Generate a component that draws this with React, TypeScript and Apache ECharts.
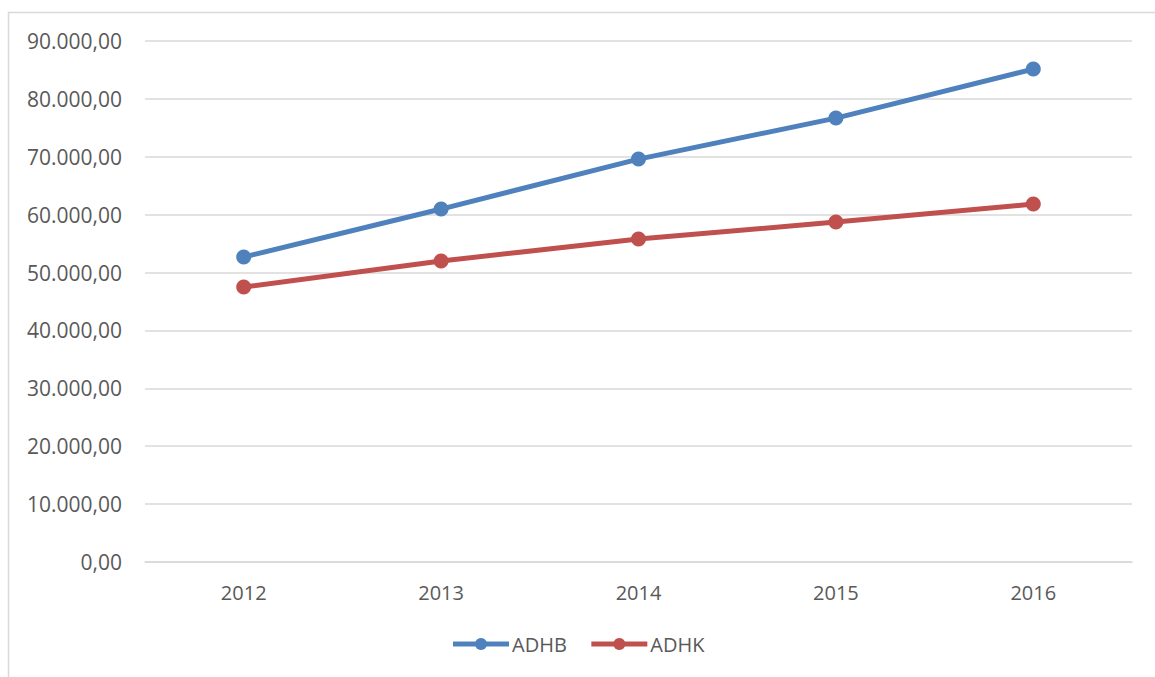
import React, { useEffect, useRef } from "react";
import * as echarts from "echarts";

const years = ["2012", "2013", "2014", "2015", "2016"];
const adhb = [52680, 60970, 69600, 76680, 85150];
const adhk = [47500, 51990, 55790, 58720, 61830];

const fmt = (v: number) => {
  const s = Math.round(v).toString().replace(/\B(?=(\d{3})+(?!\d))/g, ".");
  return s + ",00";
};

export default function App() {
  const ref = useRef<HTMLDivElement>(null);
  useEffect(() => {
    if (!ref.current) return;
    const chart = echarts.init(ref.current, undefined, { renderer: "svg" });
    const font = "'Open Sans', sans-serif";
    chart.setOption({
      animation: false,
      backgroundColor: "#ffffff",
      graphic: [
        {
          type: "rect",
          shape: { x: 8.5, y: 12.5, width: 1160, height: 700 },
          style: { fill: "none", stroke: "#d9d9d9", lineWidth: 1.5 },
          silent: true,
          z: -1,
        },
      ],
      grid: { left: 145, right: 23, top: 41, bottom: 115, containLabel: false },
      legend: {
        bottom: 18,
        left: "center",
        itemWidth: 56,
        itemHeight: 15,
        itemGap: 22,
        data: ["ADHB", "ADHK"],
        lineStyle: { width: 5 },
        textStyle: { color: "#595959", fontSize: 20, fontFamily: font, padding: [0, 0, 0, -2] },
      },
      xAxis: {
        type: "category",
        data: years,
        boundaryGap: true,
        axisLine: { show: true, lineStyle: { color: "#d9d9d9", width: 1.5 } },
        axisTick: { show: false },
        axisLabel: { color: "#595959", fontSize: 20, fontFamily: font, margin: 20 },
      },
      yAxis: {
        type: "value",
        min: 0,
        max: 90000,
        interval: 10000,
        axisLine: { show: false },
        axisTick: { show: false },
        splitLine: { lineStyle: { color: "#d9d9d9", width: 1.5 } },
        axisLabel: { color: "#595959", fontSize: 21, fontFamily: font, margin: 23, formatter: fmt },
      },
      series: [
        {
          name: "ADHB",
          type: "line",
          data: adhb,
          symbol: "circle",
          symbolSize: 15,
          color: "#4f81bd",
          lineStyle: { width: 5, color: "#4f81bd" },
          itemStyle: { color: "#4f81bd" },
        },
        {
          name: "ADHK",
          type: "line",
          data: adhk,
          symbol: "circle",
          symbolSize: 15,
          color: "#c0504d",
          lineStyle: { width: 5, color: "#c0504d" },
          itemStyle: { color: "#c0504d" },
        },
      ],
    });
    return () => chart.dispose();
  }, []);
  return (
    <div
      ref={ref}
      style={{ position: "fixed", left: 0, top: 0, width: 1155, height: 677 }}
    />
  );
}
